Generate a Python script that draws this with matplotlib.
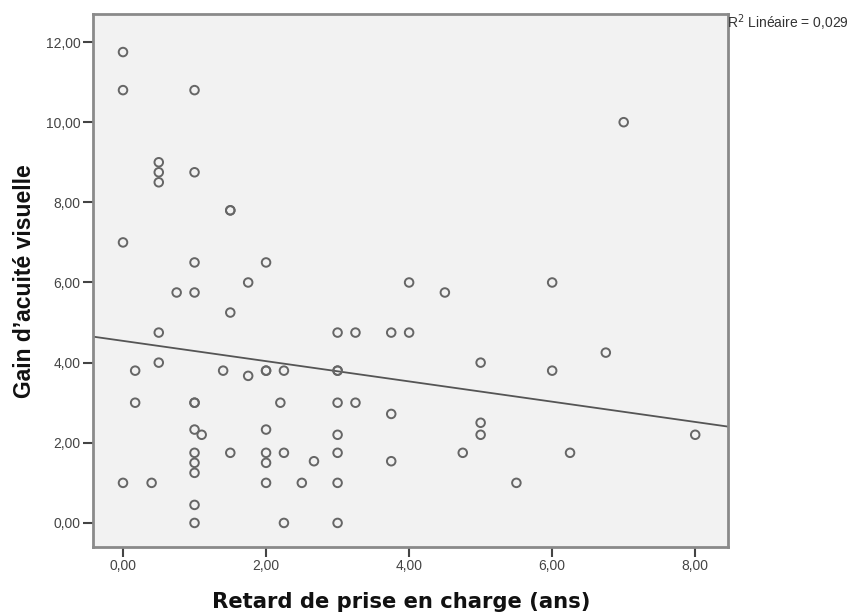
import matplotlib
matplotlib.use("Agg")
import matplotlib.pyplot as plt
import numpy as np
from matplotlib.ticker import FuncFormatter

plt.rcParams['font.family'] = ['Liberation Sans', 'DejaVu Sans']

# retard de prise en charge (ans) / gain d'acuité visuelle
retard = [0, 0, 1, 0.5, 0.5, 0.5, 1, 1.5, 1.5, 0, 1, 2,
          1.75, 0.75, 1, 1.5, 0.5, 0.5, 0.17, 1.4, 1.75, 2, 2, 2.25,
          0.17, 1, 1, 2.2, 1, 1.1, 2, 1, 1, 1.5, 2, 2, 2.25, 2.67,
          1, 0, 0.4, 2, 2.5, 1, 1, 2.25,
          4, 4.5, 3, 3.25, 3.75, 4, 5, 3, 3, 3, 3.25, 3.75, 5, 5,
          3, 3, 4.75, 3.75, 3, 5.5, 3,
          7, 6, 6.75, 6, 8, 6.25]
gain = [11.75, 10.8, 10.8, 9.0, 8.75, 8.5, 8.75, 7.8, 7.8, 7.0, 6.5, 6.5,
        6.0, 5.75, 5.75, 5.25, 4.75, 4.0, 3.8, 3.8, 3.67, 3.8, 3.8, 3.8,
        3.0, 3.0, 3.0, 3.0, 2.33, 2.2, 2.33, 1.75, 1.5, 1.75, 1.75, 1.5, 1.75, 1.54,
        1.25, 1.0, 1.0, 1.0, 1.0, 0.45, 0.0, 0.0,
        6.0, 5.75, 4.75, 4.75, 4.75, 4.75, 4.0, 3.8, 3.8, 3.0, 3.0, 2.72, 2.5, 2.2,
        2.2, 1.75, 1.75, 1.54, 1.0, 1.0, 0.0,
        10.0, 6.0, 4.25, 3.8, 2.2, 1.75]

x_ticks = [0, 2, 4, 6, 8]
y_ticks = [0, 2, 4, 6, 8, 10, 12]

x = np.array(retard)
y = np.array(gain)
pente, origine = np.polyfit(x, y, 1)

fig = plt.figure(figsize=(8.56, 6.15), dpi=100)
ax = fig.add_axes([0.1086, 0.1106, 0.742, 0.866])
ax.set_facecolor("#f2f2f2")

ax.scatter(x, y, s=38, facecolors="none", edgecolors="#666666",
           linewidths=1.4, zorder=3)

xl = np.array([-0.42, 8.46])
ax.plot(xl, origine + pente * xl, color="#555555", lw=1.3, zorder=2)

ax.set_xlim(-0.42, 8.46)
ax.set_ylim(-0.6, 12.69)
ax.set_xticks(x_ticks)
ax.set_yticks(y_ticks)
virgule = FuncFormatter(lambda v, p: f"{v:.2f}".replace(".", ","))
ax.xaxis.set_major_formatter(virgule)
ax.yaxis.set_major_formatter(virgule)
ax.tick_params(labelsize=10, color="#444444", length=7, width=1.5, pad=2,
               labelcolor="#444444")

for s in ax.spines.values():
    s.set_color("#8a8a8a")
    s.set_linewidth(2)

ax.set_xlabel("Retard de prise en charge (ans)", fontsize=15.2, fontweight="bold",
              color="#111111", family="DejaVu Sans")
ax.xaxis.set_label_coords(0.485, -0.085)
ax.set_ylabel("Gain d\u2019acuité visuelle", fontsize=16.5, fontweight="bold",
              color="#111111")
ax.yaxis.set_label_coords(-0.09, 0.5)

fig.text(0.849, 0.963, "R$^2$ Linéaire = 0,029", fontsize=10, color="#333333",
         ha="left", va="center")

fig.savefig("out.png", dpi=100, facecolor="white")
